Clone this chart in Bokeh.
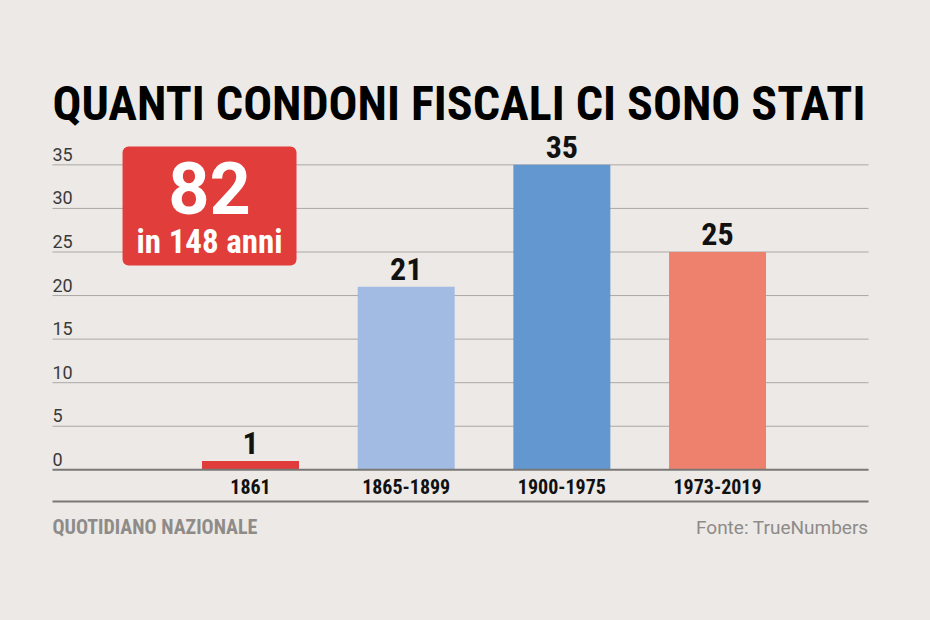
from bokeh.plotting import figure
from bokeh.models import (ColumnDataSource, LabelSet, BoxAnnotation,
                          Range1d, GlobalInlineStyleSheet)
from bokeh.core.properties import value
from bokeh.embed import file_html
from bokeh.resources import INLINE

# ---- data ----
categories = ["1861", "1865-1899", "1900-1975", "1973-2019"]
counts = [1, 21, 35, 25]
bar_colors = ["#E03C3B", "#A2BBE3", "#6397D0", "#EE806E"]
y_ticks = [0, 5, 10, 15, 20, 25, 30, 35]
title_text = "QUANTI CONDONI FISCALI CI SONO STATI"
box_big = "82"
box_small = "in 148 anni"
source_left = "QUOTIDIANO NAZIONALE"
source_right = "Fonte: TrueNumbers"

BG = "#ECE9E6"
COND = "Roboto Condensed"

idx = list(range(len(categories)))
X0, X1 = -1.272, 3.970          # plot area left / right (data units)
Y_RULE = -3.64                  # lower rule under the category labels

p = figure(width=930, height=620, output_backend="svg", toolbar_location=None,
           x_range=Range1d(-1.606, 4.368), y_range=Range1d(-17.29, 53.86),
           x_axis_location=None, y_axis_location=None,
           min_border=0, min_border_left=0, min_border_right=0,
           min_border_top=0, min_border_bottom=0)
p.background_fill_color = BG
p.border_fill_color = BG
p.outline_line_color = None
p.grid.visible = False
p.stylesheets = [GlobalInlineStyleSheet(css="body { background: %s; }" % BG)]

# grid lines
gt = y_ticks[1:]
p.segment(x0=[X0] * len(gt), x1=[X1] * len(gt), y0=gt, y1=gt,
          line_color="#ABA8A5", line_width=1)

src = ColumnDataSource(dict(x=idx, top=counts, color=bar_colors,
                            cat=categories, lab=[str(c) for c in counts]))
p.vbar(x="x", top="top", bottom=0, width=0.623, fill_color="color",
       line_color=None, source=src)

# baseline + lower rule
p.segment(x0=[X0, X0], x1=[X1, X1], y0=[0, Y_RULE], y1=[0, Y_RULE],
          line_color="#7A7876", line_width=2)

# red box (added before the texts so the texts sit on top)
p.add_layout(BoxAnnotation(left=-0.822, right=0.2955, top=37.1, bottom=23.45,
                           fill_color="#E03D3B", fill_alpha=1, line_color=None,
                           border_radius=6))


def txt(x, y, text, font, size, color, align="left", style="normal", y_offset=0):
    s = ColumnDataSource(dict(x=[x], y=[y], t=[text]))
    p.add_layout(LabelSet(x="x", y="y", text="t", source=s, y_offset=y_offset,
                          text_align=align, text_baseline="alphabetic",
                          text_font=value(font), text_font_style=style,
                          text_font_size=size, text_color=color))


# value labels
p.add_layout(LabelSet(x="x", y="top", text="lab", source=src, y_offset=7,
                      text_align="center", text_baseline="alphabetic",
                      text_font=value(COND), text_font_style="bold",
                      text_font_size="32px", text_color="#111111"))
# category labels
p.add_layout(LabelSet(x="x", y=0, text="cat", source=src, y_offset=-24,
                      text_align="center", text_baseline="alphabetic",
                      text_font=value(COND), text_font_style="bold",
                      text_font_size="20px", text_color="#111111"))
# y tick labels
tsrc = ColumnDataSource(dict(x=[X0] * len(y_ticks), y=y_ticks,
                             t=[str(t) for t in y_ticks]))
p.add_layout(LabelSet(x="x", y="y", text="t", source=tsrc,
                      y_offset=4, text_align="left", text_baseline="alphabetic",
                      text_font=value("Roboto"), text_font_size="18px",
                      text_color="#3A3A3A"))

# box texts
txt(-0.263, 29.41, box_big, "Roboto", "72px", "#FFFFFF", "center", "bold")
txt(-0.263, 24.84, box_small, COND, "33px", "#FFFFFF", "center", "bold")

# title
txt(X0, 40.19, title_text, COND, "48px", "#000000", "left", "bold")

# footer
txt(X0, -7.31, source_left, COND, "20px", "#8E8B89", "left", "bold")
txt(X1, -7.31, source_right, "Roboto", "19px", "#8E8B89", "right")

open("out.html", "w").write(file_html(p, INLINE))
